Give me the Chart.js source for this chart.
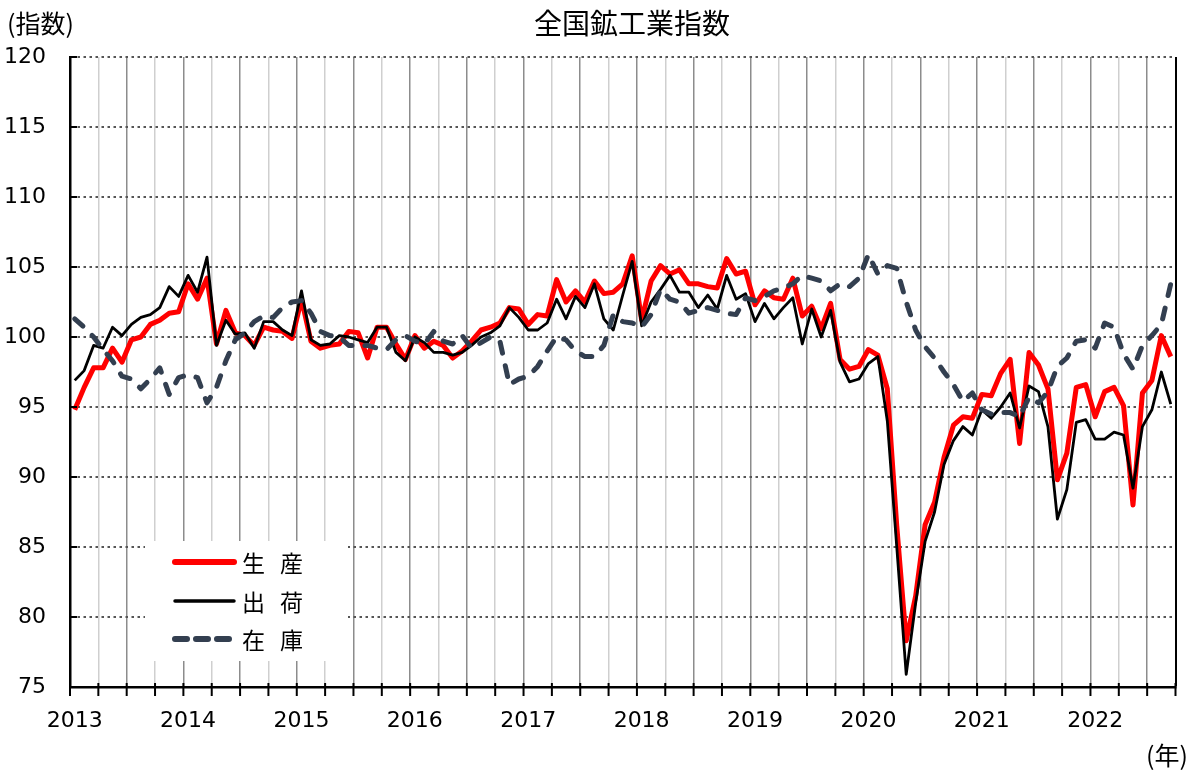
<!DOCTYPE html>
<html>
<head>
<meta charset="utf-8">
<script src="https://cdn.jsdelivr.net/npm/chart.js@4"></script>
<style>
  html, body { margin: 0; padding: 0; background: #fff; }
</style>
</head>
<body>
<canvas id="chart" width="1200" height="772"></canvas>
<script>
// monthly index, 2013-01 .. 2022-09
const startYear = 2013;
const monthCount = 117;
const seriesLabels = ['生 産', '出 荷', '在 庫'];

const production = [
  94.8, 96.4, 97.8, 97.8, 99.2, 98.2, 99.8, 100.0, 100.9, 101.2, 101.7, 101.8,
  103.8, 102.7, 104.2, 99.5, 101.9, 100.3, 100.1, 99.4, 100.7, 100.5, 100.4, 99.9,
  102.7, 99.7, 99.2, 99.4, 99.5, 100.4, 100.3, 98.5, 100.7, 100.7, 99.5, 98.4,
  100.1, 99.2, 99.7, 99.4, 98.5, 99.0, 99.7, 100.5, 100.7, 101.0, 102.1, 102.0,
  100.9, 101.6, 101.5, 104.1, 102.5, 103.3, 102.5, 104.0, 103.1, 103.2, 103.8, 105.8,
  101.2, 104.0, 105.1, 104.5, 104.8, 103.8, 103.8, 103.6, 103.5, 105.6, 104.5, 104.7,
  102.3, 103.3, 102.8, 102.7, 104.2, 101.5, 102.2, 100.6, 102.4, 98.4, 97.7, 97.9,
  99.1, 98.7, 96.3, 86.5, 78.3, 81.5, 86.6, 88.2, 91.4, 93.7, 94.3, 94.2,
  95.9, 95.8, 97.4, 98.4, 92.4, 98.9, 98.0, 96.3, 89.8, 91.7, 96.4, 96.6,
  94.3, 96.1, 96.4, 95.1, 88.0, 96.0, 96.9, 100.1, 98.6
];
const shipments = [
  96.9, 97.6, 99.4, 99.2, 100.7, 100.1, 100.9, 101.4, 101.6, 102.1, 103.6, 102.9,
  104.4, 103.2, 105.7, 99.4, 101.2, 100.2, 100.3, 99.2, 101.1, 101.1, 100.5, 100.1,
  103.3, 99.8, 99.4, 99.5, 100.1, 100.0, 99.8, 99.6, 100.7, 100.7, 98.9, 98.3,
  100.0, 99.6, 98.9, 98.9, 98.7, 98.9, 99.4, 100.0, 100.3, 100.8, 102.1, 101.4,
  100.5, 100.5, 101.0, 102.7, 101.3, 102.9, 102.1, 103.8, 101.3, 100.5, 103.0, 105.4,
  100.8, 102.5, 103.4, 104.4, 103.2, 103.2, 102.1, 103.0, 102.0, 104.4, 102.7, 103.1,
  101.1, 102.4, 101.3, 102.1, 102.8, 99.5, 102.0, 100.0, 101.9, 98.2, 96.8, 97.0,
  98.1, 98.6, 94.0, 85.0, 75.9, 81.0, 85.4, 87.5, 90.9, 92.6, 93.6, 93.0,
  94.8, 94.2, 95.0, 96.0, 93.5, 96.5, 96.1, 93.6, 87.0, 89.1, 93.9, 94.1,
  92.7, 92.7, 93.2, 93.0, 89.2, 93.6, 94.8, 97.5, 95.2
];
const inventory = [
  101.3, 100.7, 100.0, 99.1, 98.3, 97.2, 97.0, 96.3, 97.0, 97.8, 95.9, 97.1,
  97.3, 97.1, 95.3, 96.4, 98.3, 99.8, 100.3, 101.1, 101.5, 101.4, 102.1, 102.5,
  102.6, 101.7, 100.4, 100.1, 100.0, 99.4, 99.4, 99.4, 99.2, 99.1, 99.8, 100.1,
  99.7, 99.5, 100.4, 99.7, 99.5, 100.1, 99.2, 99.6, 100.0, 99.7, 96.6, 97.0,
  97.2, 97.9, 99.0, 100.0, 99.8, 99.0, 98.6, 98.6, 99.4, 101.6, 101.1, 101.0,
  100.7, 101.6, 103.4, 102.7, 102.5, 101.7, 101.9, 102.1, 101.9, 101.7, 101.6, 102.8,
  102.6, 102.9, 103.3, 103.5, 103.8, 104.4, 104.2, 104.0, 103.3, 103.8, 103.6, 104.2,
  105.9, 104.5, 105.1, 104.9, 102.5, 100.5, 99.3, 98.5, 97.5, 96.6, 95.4, 96.0,
  94.8, 94.5, 94.6, 94.6, 94.3, 95.7, 95.3, 96.1, 97.9, 98.5, 99.7, 99.8,
  99.2, 101.0, 100.7, 98.8, 97.7, 99.4, 100.1, 100.9, 103.8
];

const yMin = 75, yMax = 120, yStep = 5;
const cjk = '"Noto Sans CJK JP", "Noto Sans CJK SC", sans-serif';
const num = '"DejaVu Sans", sans-serif';

// each month sits in the middle of its slot on the date axis
const toPoints = arr => arr.map((v, i) => ({ x: i + 0.5, y: v }));

const seriesStyles = [
  { color: '#ff0000', width: 5, dash: [] },
  { color: '#000000', width: 2.8, dash: [] },
  { color: '#333f50', width: 5, dash: [11, 13] }
];

const decor = {
  id: 'decor',
  beforeDatasetsDraw(chart) {
    const { ctx } = chart;
    // legend box
    ctx.save();
    ctx.fillStyle = '#fff';
    ctx.fillRect(145, 541, 203, 120);
    const rows = [562, 601, 639];
    seriesLabels.forEach((label, i) => {
      const st = seriesStyles[i];
      ctx.beginPath();
      ctx.strokeStyle = st.color;
      ctx.lineWidth = i === 1 ? 3.5 : 6;
      ctx.lineCap = 'round';
      ctx.setLineDash(i === 2 ? [12, 9] : []);
      ctx.moveTo(175, rows[i]);
      ctx.lineTo(234, rows[i]);
      ctx.stroke();
      ctx.setLineDash([]);
      ctx.fillStyle = '#000';
      ctx.font = '23px ' + cjk;
      ctx.textBaseline = 'middle';
      ctx.textAlign = 'left';
      const parts = label.split(' ');
      ctx.fillText(parts[0], 242, rows[i] + 1);
      ctx.fillText(parts[1], 280, rows[i] + 1);
    });
    ctx.restore();
  },
  afterDraw(chart) {
    const { ctx, chartArea, scales } = chart;
    ctx.save();
    // tick marks crossing the x axis
    ctx.strokeStyle = '#000';
    ctx.lineWidth = 2;
    for (let v = 0; v <= monthCount; v += 3) {
      const x = scales.x.getPixelForValue(v);
      ctx.beginPath();
      ctx.moveTo(x, chartArea.bottom - 4);
      ctx.lineTo(x, chartArea.bottom + 9);
      ctx.stroke();
    }
    // short inner ticks on the y axis
    for (let v = yMin + yStep; v <= yMax; v += yStep) {
      const y = scales.y.getPixelForValue(v);
      ctx.beginPath();
      ctx.moveTo(chartArea.left, y);
      ctx.lineTo(chartArea.left + 7, y);
      ctx.stroke();
    }
    ctx.fillStyle = '#000';
    ctx.textBaseline = 'middle';
    ctx.textAlign = 'center';
    ctx.font = '28px ' + cjk;
    ctx.fillText('全国鉱工業指数', 632, 23);
    ctx.textAlign = 'left';
    ctx.font = '25px ' + cjk;
    ctx.fillText('(指数)', 7, 23);
    ctx.fillText('(年)', 1146, 755);
    ctx.restore();
  }
};

new Chart(document.getElementById('chart'), {
  type: 'line',
  data: {
    datasets: [production, shipments, inventory].map((arr, i) => ({
      label: seriesLabels[i],
      data: toPoints(arr),
      borderColor: seriesStyles[i].color,
      borderWidth: seriesStyles[i].width,
      borderDash: seriesStyles[i].dash,
      borderCapStyle: i === 2 ? 'round' : 'butt',
      borderJoinStyle: 'round',
      pointRadius: 0,
      tension: 0,
      order: 3 - i
    }))
  },
  options: {
    responsive: false,
    animation: false,
    layout: { padding: { left: 0, top: 57, right: 24.5, bottom: 0 } },
    plugins: { legend: { display: false }, tooltip: { enabled: false } },
    scales: {
      x: {
        type: 'linear',
        min: 0,
        max: monthCount,
        afterBuildTicks: s => {
          const t = [];
          for (let v = 0; v <= monthCount; v += 3) t.push({ value: v });
          s.ticks = t;
        },
        afterFit: s => { s.height = 85; },
        grid: {
          drawTicks: false,
          color: c => {
            const v = c.tick ? c.tick.value : 0;
            if (v === monthCount) return '#000';
            return v % 6 === 0 ? '#8c8c8c' : '#cfcfcf';
          },
          lineWidth: c => (c.tick && c.tick.value === monthCount ? 2 : 1.5)
        },
        border: { color: '#000', width: 2.5 },
        ticks: {
          autoSkip: false,
          maxRotation: 0,
          labelOffset: 4.7,
          padding: 21,
          color: '#000',
          font: { family: num, size: 22 },
          callback: v => (v % 12 === 0 ? String(startYear + v / 12) : '')
        }
      },
      y: {
        min: yMin,
        max: yMax,
        afterFit: s => { s.width = 70; },
        grid: { drawTicks: false, color: '#555', lineWidth: 2 },
        border: { color: '#000', width: 2.5, dash: [2.5, 3.5] },
        ticks: {
          stepSize: yStep,
          padding: 24,
          color: '#000',
          font: { family: num, size: 22 }
        }
      }
    }
  },
  plugins: [decor]
});
</script>
</body>
</html>
